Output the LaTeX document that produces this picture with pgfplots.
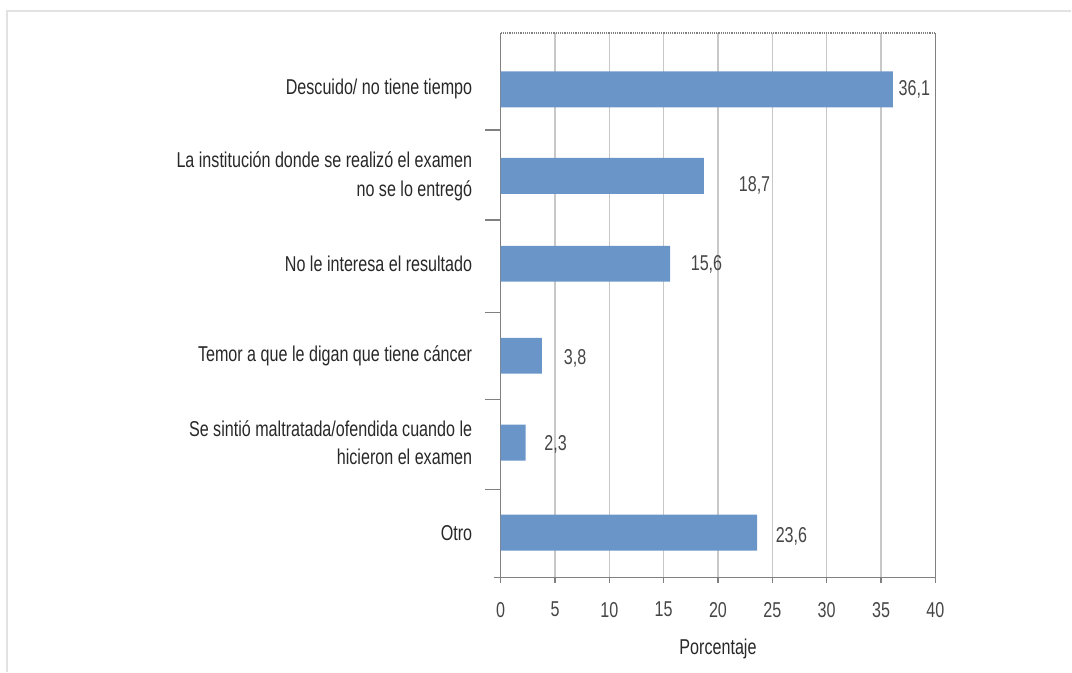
\documentclass[border=0pt]{standalone}
\usepackage{fontspec}
\setmainfont{Liberation Sans}[FakeStretch=0.75]
\usepackage{pgfplots}
\pgfplotsset{compat=1.18}
\definecolor{barblue}{RGB}{106,149,201}
\definecolor{txt}{RGB}{40,40,40}
\definecolor{lbl}{RGB}{70,70,70}
\definecolor{gridc}{RGB}{200,200,200}
\definecolor{axc}{RGB}{128,128,128}
\definecolor{framec}{RGB}{226,226,226}
\begin{document}
\begin{tikzpicture}
\path (0pt,0pt) rectangle (1072pt,672pt);
\draw[framec, line width=1.5pt] (7pt,0pt) -- (7pt,661pt) -- (1072pt,661pt);
\begin{axis}[
  at={(501pt,94pt)}, anchor=south west,
  scale only axis, width=435pt, height=545pt,
  xmin=0, xmax=40, ymin=-0.5, ymax=5.556,
  axis x line*=bottom, axis y line*=left,
  axis line style={-, axc, line width=1.6pt},
  xtick={0,5,...,40},
  tick align=outside,
  major tick length=5pt,
  tick style={axc, line width=1.4pt},
  xmajorgrids, ymajorgrids=false,
  grid style={gridc, line width=1.2pt},
  ytick={4.93,3.967,2.99,1.967,1.0,0},
  yticklabels={Descuido/ no tiene tiempo,
    {La institución donde se realizó el examen\\no se lo entregó},
    No le interesa el resultado,
    Temor a que le digan que tiene cáncer,
    {Se sintió maltratada/ofendida cuando le\\hicieron el examen},
    Otro},
  ytick style={draw=none},
  yticklabel style={align=right, font=\fontsize{21.5}{29}\selectfont, text=txt, xshift=-20pt},
  /pgf/number format/assume math mode=true,
  xticklabel style={font=\fontsize{21.5}{25}\selectfont, text=lbl, yshift=-16pt},
  xlabel={Porcentaje},
  xlabel style={font=\fontsize{21.5}{25}\selectfont, text=txt, yshift=-15pt},
  clip=false,
]
\addplot[xbar, bar width=36pt, fill=barblue, draw=none] coordinates {
  (36.1,4.93) (18.7,3.967) (15.6,2.99) (3.8,1.967) (2.3,1.0) (23.6,0)
};
\addplot[draw=none, nodes near coords, point meta=explicit symbolic,
  every node near coord/.append style={anchor=center, font=\fontsize{21.5}{25}\selectfont, text=lbl}]
  table[meta=lab] {
x y lab
38.07 4.93 36,1
23.36 3.856 18,7
18.94 2.98 15,6
6.85 1.94 3,8
5.06 0.98 2,3
26.76 -0.044 23,6
};
\draw[axc, line width=1.6pt] (axis cs:40,-0.5) -- (axis cs:40,5.556);
\draw[axc, line width=1.2pt, densely dotted] (axis cs:0,5.556) -- (axis cs:40,5.556);
\draw[axc, line width=1.6pt] (axis cs:-0.6,-0.5) -- (axis cs:0,-0.5);
\draw[axc, line width=1.4pt] (axis cs:0,4.478) -- ++(-16pt,0pt);
\draw[axc, line width=1.4pt] (axis cs:0,3.478) -- ++(-16pt,0pt);
\draw[axc, line width=1.4pt] (axis cs:0,2.445) -- ++(-16pt,0pt);
\draw[axc, line width=1.4pt] (axis cs:0,1.478) -- ++(-16pt,0pt);
\draw[axc, line width=1.4pt] (axis cs:0,0.478) -- ++(-16pt,0pt);
\end{axis}
\end{tikzpicture}
\end{document}
